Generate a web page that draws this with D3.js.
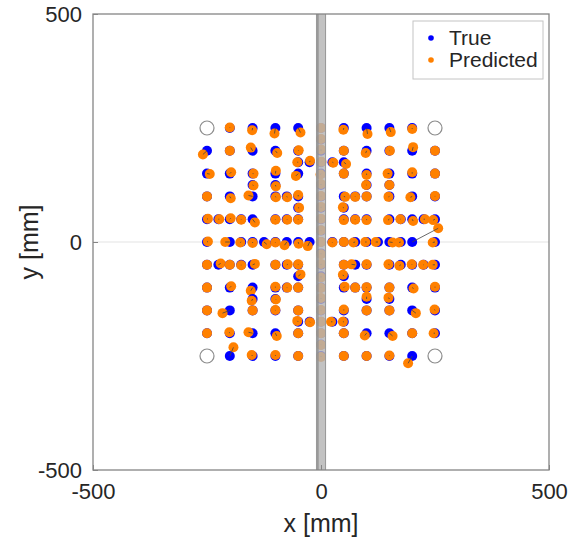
<!DOCTYPE html>
<html>
<head>
<meta charset="utf-8">
<script src="https://cdn.jsdelivr.net/npm/d3@7"></script>
<style>
  body { margin: 0; background: #fff; }
  text { font-family: "Liberation Sans", Arial, sans-serif; fill: #262626; }
</style>
</head>
<body>
<svg id="chart"></svg>
<script>
// true target positions (mm), row by row from top
const trueX = [
  -200, -150, -100, -50, 0, 50, 100, 150, 200,
  0,
  -250, -200, -150, -100, -50, 0, 50, 100, 150, 200, 250,
  -50, -25, 0, 25, 50,
  -250, -200, -150, -100, -50, 0, 50, 100, 150, 200, 250,
  -150, -100, 0, 100, 150,
  -250, -200, -150, -100, -75, -50, 0, 50, 75, 100, 150, 200, 250,
  -50, 0, 50,
  -250, -225, -200, -175, -150, -100, -75, -50, 0, 50, 75, 100, 150, 175, 200, 225, 250,
  0,
  -250, -200, -175, -150, -125, -100, -75, -50, -25, 0, 25, 50, 75, 100, 125, 150, 175, 200, 250,
  0,
  -250, -225, -200, -175, -150, -100, -75, -50, 0, 50, 75, 100, 150, 175, 200, 225, 250,
  -50, 0, 50,
  -250, -200, -150, -100, -75, -50, 0, 50, 75, 100, 150, 200, 250,
  -150, -100, 0, 100, 150,
  -250, -200, -150, -100, -50, 0, 50, 100, 150, 200, 250,
  -50, -25, 0, 25, 50,
  -250, -200, -150, -100, -50, 0, 50, 100, 150, 200, 250,
  0,
  -200, -150, -100, -50, 0, 50, 100, 150, 200
];
const trueY = [
  250, 250, 250, 250, 250, 250, 250, 250, 250,
  225,
  200, 200, 200, 200, 200, 200, 200, 200, 200, 200, 200,
  175, 175, 175, 175, 175,
  150, 150, 150, 150, 150, 150, 150, 150, 150, 150, 150,
  125, 125, 125, 125, 125,
  100, 100, 100, 100, 100, 100, 100, 100, 100, 100, 100, 100, 100,
  75, 75, 75,
  50, 50, 50, 50, 50, 50, 50, 50, 50, 50, 50, 50, 50, 50, 50, 50, 50,
  25,
  0, 0, 0, 0, 0, 0, 0, 0, 0, 0, 0, 0, 0, 0, 0, 0, 0, 0, 0,
  -25,
  -50, -50, -50, -50, -50, -50, -50, -50, -50, -50, -50, -50, -50, -50, -50, -50, -50,
  -75, -75, -75,
  -100, -100, -100, -100, -100, -100, -100, -100, -100, -100, -100, -100, -100,
  -125, -125, -125, -125, -125,
  -150, -150, -150, -150, -150, -150, -150, -150, -150, -150, -150,
  -175, -175, -175, -175, -175,
  -200, -200, -200, -200, -200, -200, -200, -200, -200, -200, -200,
  -225,
  -250, -250, -250, -250, -250, -250, -250, -250, -250
];
// predicted positions (mm), same order
const predX = [
  -200, -151, -102, -45, 0, 49, 102, 153, 200,
  0,
  -259, -200, -154, -96, -49, 0, 50, 98, 151, 202, 250,
  -52, -24, 1, 27, 55,
  -244, -197, -148, -99, -55, -1, 50, 100, 146, 200, 250,
  -148, -99, 0, 99, 150,
  -250, -198, -159, -99, -74, -50, 0, 53, 75, 100, 148, 196, 250,
  -48, 0, 48,
  -248, -223, -198, -175, -145, -100, -74, -50, 0, 50, 75, 100, 147, 174, 202, 228, 246,
  0,
  -248, -210, -177, -150, -119, -100, -80, -49, -29, 0, 25, 50, 71, 97, 120, 157, 171, 257, 245,
  0,
  -250, -220, -200, -175, -145, -100, -73, -50, 0, 50, 67, 100, 148, 172, 199, 224, 245,
  -45, 0, 48,
  -250, -197, -154, -100, -74, -50, 0, 52, 75, 100, 150, 203, 250,
  -152, -99, 0, 100, 148,
  -250, -216, -150, -100, -50, 0, 50, 100, 150, 208, 249,
  -52, -24, 0, 22, 48,
  -250, -201, -159, -97, -50, 0, 50, 96, 157, 200, 247,
  0,
  -192, -152, -100, -50, 0, 50, 100, 150, 191
];
const predY = [
  251, 245, 238, 240, 250, 246, 237, 241, 248,
  226,
  192, 200, 207, 195, 201, 203, 200, 195, 200, 208, 200,
  175, 178, 176, 174, 171,
  149, 153, 150, 156, 145, 148, 150, 147, 150, 153, 150,
  124, 122, 127, 125, 125,
  100, 96, 102, 98, 98, 103, 101, 99, 99, 100, 99, 98, 101,
  75, 77, 76,
  51, 50, 52, 49, 43, 49, 49, 49, 51, 48, 49, 48, 48, 50, 46, 50, 48,
  26,
  1, 0, -1, -2, -5, -1, -7, -4, -9, 0, -1, 0, -1, 0, 0, -1, -1, 30, -1,
  -27,
  -50, -47, -50, -51, -48, -50, -49, -49, -48, -50, -49, -49, -49, -52, -49, -50, -50,
  -71, -78, -72,
  -100, -97, -107, -98, -100, -100, -101, -98, -100, -99, -100, -102, -98,
  -129, -126, -123, -120, -122,
  -150, -156, -150, -149, -150, -149, -148, -150, -150, -156, -148,
  -173, -176, -175, -175, -175,
  -200, -198, -198, -206, -200, -200, -200, -205, -206, -200, -200,
  -226,
  -231, -248, -248, -250, -252, -250, -250, -249, -266
];
// open reference markers at the corners
const cornerX = [-250, 250, -250, 250];
const cornerY = [250, 250, -250, -250];

const xTicks = [-500, 0, 500];
const yTicks = [-500, 0, 500];
const legendLabels = ["True", "Predicted"];
const legendColors = ["#0000ff", "#ff8000"];

const width = 569;
const height = 544;
const plot = {left: 93, top: 14, size: 456};

const svg = d3.select("#chart")
    .attr("width", width)
    .attr("height", height);

const x = d3.scaleLinear()
    .domain([-500, 500])
    .range([plot.left, plot.left + plot.size]);

const y = d3.scaleLinear()
    .domain([-500, 500])
    .range([plot.top + plot.size, plot.top]);

// zero line
svg.append("line")
    .attr("x1", x(-500)).attr("x2", x(500))
    .attr("y1", y(0)).attr("y2", y(0))
    .attr("stroke", "#e3e3e3")
    .attr("stroke-width", 1);

// points: true then predicted, with a short error line on top
const idx = d3.range(trueX.length);
const pair = svg.append("g")
    .selectAll("g")
    .data(idx)
    .enter()
    .append("g");

pair.append("circle")
    .attr("cx", i => x(trueX[i]))
    .attr("cy", i => y(trueY[i]))
    .attr("r", 5)
    .attr("fill", legendColors[0]);

pair.append("circle")
    .attr("cx", i => x(predX[i]))
    .attr("cy", i => y(predY[i]))
    .attr("r", 5)
    .attr("fill", legendColors[1]);

pair.append("line")
    .attr("x1", i => x(trueX[i]))
    .attr("y1", i => y(trueY[i]))
    .attr("x2", i => x(predX[i]))
    .attr("y2", i => y(predY[i]))
    .attr("stroke", "#444")
    .attr("stroke-width", 0.8);

svg.append("g")
    .selectAll("circle")
    .data(cornerX)
    .enter()
    .append("circle")
    .attr("cx", (d, i) => x(cornerX[i]))
    .attr("cy", (d, i) => y(cornerY[i]))
    .attr("r", 7)
    .attr("fill", "none")
    .attr("stroke", "#8c8c8c")
    .attr("stroke-width", 1.2);

// grey pole in the middle, drawn over the points
svg.append("rect")
    .attr("x", x(-11))
    .attr("y", y(500))
    .attr("width", x(11) - x(-11))
    .attr("height", y(-500) - y(500))
    .attr("fill", "#b4b4b4")
    .attr("opacity", 0.82);
svg.append("rect")
    .attr("x", x(-11))
    .attr("y", y(500))
    .attr("width", x(-5) - x(-11))
    .attr("height", y(-500) - y(500))
    .attr("fill", "#8e8e8e")
    .attr("opacity", 0.8);
svg.append("line")
    .attr("x1", x(10)).attr("x2", x(10))
    .attr("y1", y(500)).attr("y2", y(-500))
    .attr("stroke", "#999")
    .attr("stroke-width", 1);

// axes box
svg.append("rect")
    .attr("x", x(-500))
    .attr("y", y(500))
    .attr("width", x(500) - x(-500))
    .attr("height", y(-500) - y(500))
    .attr("fill", "none")
    .attr("stroke", "#858585")
    .attr("stroke-width", 1.3);

const xAxis = svg.append("g")
    .attr("transform", `translate(0, ${y(-500)})`)
    .call(d3.axisBottom(x).tickValues(xTicks).tickSize(-5).tickPadding(13).tickFormat(d => String(d)));
const yAxis = svg.append("g")
    .attr("transform", `translate(${x(-500)}, 0)`)
    .call(d3.axisLeft(y).tickValues(yTicks).tickSize(-5).tickPadding(11).tickFormat(d => String(d)));

[xAxis, yAxis].forEach(a => {
    a.select(".domain").remove();
    a.selectAll("line").attr("stroke", "#858585");
    a.selectAll("text")
        .attr("font-size", "22px")
        .attr("font-family", "Liberation Sans, Arial, sans-serif")
        .attr("fill", "#262626");
});

svg.append("text")
    .attr("x", x(0))
    .attr("y", 532)
    .attr("text-anchor", "middle")
    .attr("font-size", "25px")
    .text("x [mm]");

svg.append("text")
    .attr("transform", `translate(38, ${y(0)}) rotate(-90)`)
    .attr("text-anchor", "middle")
    .attr("font-size", "25px")
    .text("y [mm]");

// legend
const legend = svg.append("g");
legend.append("rect")
    .attr("x", 413)
    .attr("y", 21)
    .attr("width", 130)
    .attr("height", 58)
    .attr("fill", "#fff")
    .attr("stroke", "#c4c4c4")
    .attr("stroke-width", 1);

const item = legend.selectAll(".item")
    .data(legendLabels)
    .enter()
    .append("g")
    .attr("transform", (d, i) => `translate(0, ${38 + i * 22})`);

item.append("circle")
    .attr("cx", 431)
    .attr("cy", 0)
    .attr("r", 2.8)
    .attr("fill", (d, i) => legendColors[i]);

item.append("text")
    .attr("x", 449)
    .attr("y", 7)
    .attr("font-size", "21px")
    .text(d => d);
</script>
</body>
</html>
